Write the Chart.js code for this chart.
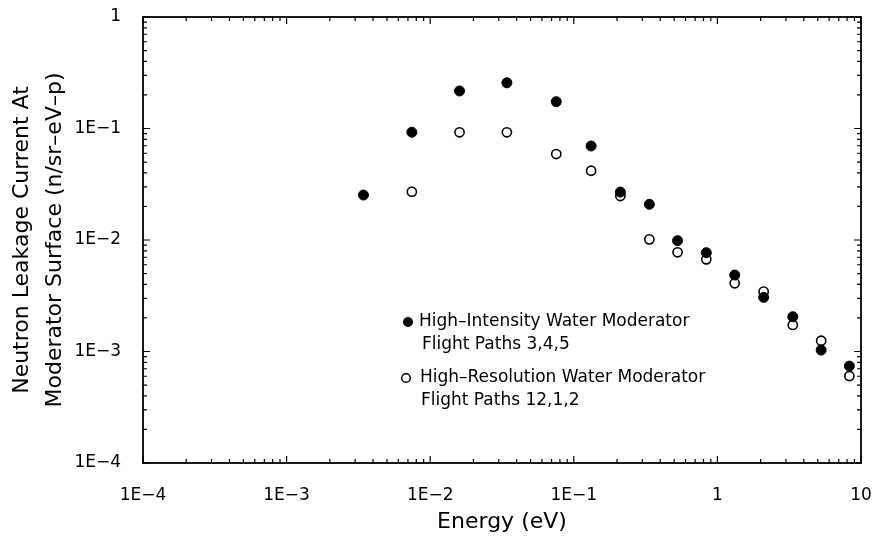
<!DOCTYPE html>
<html>
<head>
<meta charset="utf-8">
<script src="https://cdn.jsdelivr.net/npm/chart.js@4/dist/chart.umd.min.js"></script>
<style>
  html, body { margin: 0; padding: 0; background: #fff; }
  #wrap { width: 875px; height: 538px; }
</style>
</head>
<body>
<div id="wrap"><canvas id="chart"></canvas></div>
<script>
// energy (eV) of each point
const energies = [0.00343, 0.00745, 0.016, 0.0342, 0.0755, 0.132, 0.211, 0.336, 0.528, 0.837, 1.32, 2.1, 3.35, 5.28, 8.3];
// high-intensity moderator (filled dots)
const highIntensity = [0.0253, 0.0925, 0.217, 0.257, 0.174, 0.0697, 0.0269, 0.0209, 0.00986, 0.00769, 0.00485, 0.00306, 0.00205, 0.00103, 0.00074];
// high-resolution moderator (open dots), no point at the first energy
const highResolution = [null, 0.0271, 0.0925, 0.0925, 0.059, 0.0418, 0.0248, 0.01014, 0.00776, 0.00671, 0.00409, 0.00344, 0.00173, 0.00125, 0.000603];

const xTicks = [1e-4, 1e-3, 1e-2, 1e-1, 1, 10];
const xTickLabels = ["1E\u22124", "1E\u22123", "1E\u22122", "1E\u22121", "1", "10"];
const yTicks = [1e-4, 1e-3, 1e-2, 1e-1, 1];
const yTickLabels = ["1E\u22124", "1E\u22123", "1E\u22122", "1E\u22121", "1"];

const legendLines = [
  ["High\u2013Intensity Water Moderator", "Flight Paths 3,4,5"],
  ["High\u2013Resolution Water Moderator", "Flight Paths 12,1,2"],
];

const FONT = "'DejaVu Sans', sans-serif";

const toPoints = (ys) => energies.map((x, i) => ({ x: x, y: ys[i] })).filter(p => p.y !== null);

// inward tick marks on all four sides + frame
const frameTicks = {
  id: "frameTicks",
  afterDatasetsDraw(chart) {
    const { ctx, chartArea: a, scales } = chart;
    const xs = scales.x, ys = scales.y;
    ctx.save();
    ctx.strokeStyle = "#000";
    ctx.lineWidth = 1.2;
    ctx.beginPath();
    for (let e = -4; e <= 1; e++) {
      for (let k = 1; k <= 9; k++) {
        const v = k * Math.pow(10, e);
        if (v < xs.min * 0.999 || v > xs.max * 1.001) continue;
        const px = xs.getPixelForValue(v);
        const len = k === 1 ? 7 : 4;
        ctx.moveTo(px, a.bottom); ctx.lineTo(px, a.bottom - len);
        ctx.moveTo(px, a.top); ctx.lineTo(px, a.top + len);
      }
    }
    for (let e = -4; e <= 0; e++) {
      for (let k = 1; k <= 9; k++) {
        const v = k * Math.pow(10, e);
        if (v < ys.min * 0.999 || v > ys.max * 1.001) continue;
        const py = ys.getPixelForValue(v);
        const len = k === 1 ? 7 : 4;
        ctx.moveTo(a.left, py); ctx.lineTo(a.left + len, py);
        ctx.moveTo(a.right, py); ctx.lineTo(a.right - len, py);
      }
    }
    ctx.stroke();
    ctx.lineWidth = 1.8;
    ctx.strokeRect(a.left, a.top, a.right - a.left, a.bottom - a.top);
    ctx.restore();
  }
};

// legend inside the plot
const insideLegend = {
  id: "insideLegend",
  afterDraw(chart) {
    const { ctx, chartArea: a } = chart;
    const x0 = a.left + 265, y0 = a.top + 305;
    ctx.save();
    ctx.fillStyle = "#000";
    ctx.strokeStyle = "#000";
    ctx.font = "17px " + FONT;
    ctx.textBaseline = "middle";
    // filled marker
    ctx.beginPath(); ctx.arc(x0, y0, 5, 0, Math.PI * 2); ctx.fill();
    ctx.fillText(legendLines[0][0], x0 + 11, y0);
    ctx.fillText(legendLines[0][1], x0 + 14, y0 + 23);
    // open marker
    ctx.lineWidth = 1.5;
    ctx.beginPath(); ctx.arc(x0 - 2, y0 + 56, 4.3, 0, Math.PI * 2); ctx.stroke();
    ctx.fillText(legendLines[1][0], x0 + 12, y0 + 56);
    ctx.fillText(legendLines[1][1], x0 + 13, y0 + 79);
    ctx.restore();
  }
};

const config = {
  type: "scatter",
  data: {
    datasets: [
      {
        label: "High-Intensity Water Moderator, Flight Paths 3,4,5",
        data: toPoints(highIntensity),
        pointRadius: 5,
        pointBackgroundColor: "#000",
        pointBorderColor: "#000",
        pointBorderWidth: 1,
      },
      {
        label: "High-Resolution Water Moderator, Flight Paths 12,1,2",
        data: toPoints(highResolution),
        pointRadius: 4.6,
        pointBackgroundColor: "#fff",
        pointBorderColor: "#000",
        pointBorderWidth: 1.6,
      },
    ],
  },
  options: {
    responsive: true,
    maintainAspectRatio: false,
    animation: false,
    layout: { padding: { top: 17, right: 14, bottom: 3, left: 0 } },
    plugins: {
      legend: { display: false },
      tooltip: { enabled: false },
    },
    scales: {
      x: {
        type: "logarithmic",
        min: 1e-4,
        max: 10,
        afterBuildTicks: (s) => { s.ticks = xTicks.map(v => ({ value: v })); },
        afterFit: (s) => { s.height = 72; s.paddingLeft = 0; s.paddingRight = 0; },
        grid: { display: false },
        border: { display: false },
        ticks: {
          autoSkip: false,
          maxRotation: 0,
          padding: 14,
          color: "#000",
          font: { family: FONT, size: 17 },
          callback: (v, i) => xTickLabels[i],
        },
        title: {
          display: true,
          text: "Energy (eV)",
          color: "#000",
          font: { family: FONT, size: 22 },
          padding: { top: 0, bottom: 0 },
        },
      },
      y: {
        type: "logarithmic",
        min: 1e-4,
        max: 1,
        afterBuildTicks: (s) => { s.ticks = yTicks.map(v => ({ value: v })); },
        afterFit: (s) => { s.width = 143; s.paddingTop = 0; s.paddingBottom = 0; },
        grid: { display: false },
        border: { display: false },
        ticks: {
          autoSkip: false,
          padding: 14,
          color: "#000",
          font: { family: FONT, size: 17 },
          callback: (v, i) => yTickLabels[i],
        },
        title: {
          display: true,
          text: ["Neutron Leakage Current At", "Moderator Surface (n/sr\u2013eV\u2013p)"],
          color: "#000",
          font: { family: FONT, size: 22, lineHeight: 1.5 },
          padding: { top: 5.5, bottom: 0 },
        },
      },
    },
  },
  plugins: [frameTicks, insideLegend],
};

new Chart(document.getElementById("chart").getContext("2d"), config);
</script>
</body>
</html>
